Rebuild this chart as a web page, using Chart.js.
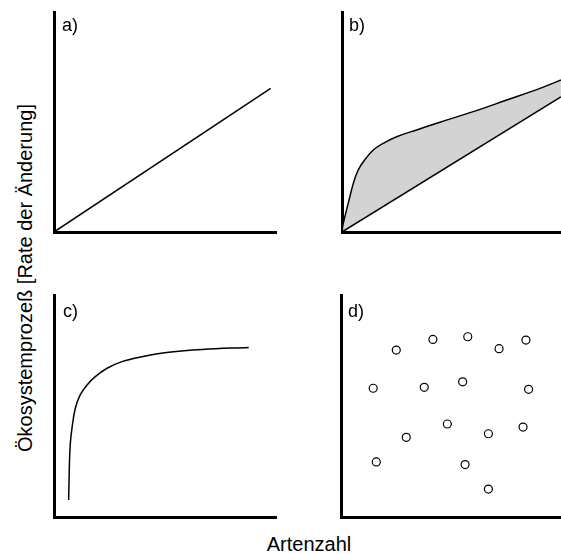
<!DOCTYPE html>
<html>
<head>
<meta charset="utf-8">
<script src="https://cdn.jsdelivr.net/npm/chart.js@4"></script>
<style>
  html, body { margin: 0; padding: 0; background: #fff; overflow: hidden; }
  body { width: 561px; height: 554px; position: relative; font-family: "Liberation Sans", Arial, Helvetica, sans-serif; color: #000; }
  canvas { position: absolute; }
  .lbl { position: absolute; font-size: 18px; line-height: 18px; white-space: nowrap; }
  .ttl { position: absolute; font-size: 20px; line-height: 20px; white-space: nowrap; text-align: center; }
</style>
</head>
<body>
<canvas id="ca" width="242" height="240" style="left:44px;top:2px"></canvas>
<canvas id="cb" width="242" height="240" style="left:332px;top:2px"></canvas>
<canvas id="cc" width="242" height="242" style="left:44px;top:285px"></canvas>
<canvas id="cd" width="242" height="242" style="left:331px;top:285px"></canvas>
<div class="lbl" style="left:62px;top:16px">a)</div>
<div class="lbl" style="left:349px;top:16px">b)</div>
<div class="lbl" style="left:63px;top:302px">c)</div>
<div class="lbl" style="left:348px;top:302px">d)</div>
<div class="ttl" style="left:109px;top:534px;width:400px">Artenzahl</div>
<div class="ttl" style="left:-175px;top:268px;width:400px;transform:rotate(-90deg);transform-origin:200px 10px">Ökosystemprozeß [Rate der Änderung]</div>
<script>
// Panel a: linear relationship
const aX = [0, 97.6];
const aY = [0, 65.3];
// Panel b: upper saturating curve and lower linear bound, area between shaded
const bUpperX = [0, 0.6, 2.8, 5.1, 7.3, 10.4, 14.1, 18.6, 24.6, 33.6, 44.1, 59.1, 74.2, 89.2, 98.6];
const bUpperY = [0, 4.0, 13.0, 22.1, 28.2, 33.0, 37.3, 40.3, 43.3, 46.4, 49.9, 54.7, 60.0, 65.3, 69.1];
const bLowerX = [0, 98.6];
const bLowerY = [0, 61.4];
// Panel c: saturating curve
const cX = [6.6, 6.9, 7.3, 8.1, 9.6, 11.8, 14.9, 18.6, 23.9, 30.6, 39.6, 51.7, 66.7, 87.7];
const cY = [7.7, 21.9, 32.4, 40.0, 49.0, 55.0, 59.5, 63.2, 67.0, 70.0, 72.2, 74.2, 75.5, 76.4];
// Panel d: scattered points (no relationship)
const dX = [24.9, 41.4, 57.1, 71.2, 83.3, 14.5, 37.5, 54.8, 84.5, 47.9, 29.4, 66.4, 82.0, 15.9, 55.9, 66.4];
const dY = [75.2, 80.0, 81.2, 75.8, 79.7, 58.0, 58.4, 60.9, 57.5, 41.9, 35.9, 37.5, 40.5, 24.8, 23.6, 12.6];

const pts = (xs, ys) => xs.map((x, i) => ({x: x, y: ys[i]}));

function baseOptions() {
  return {
    responsive: false,
    animation: false,
    devicePixelRatio: 1,
    events: [],
    layout: { padding: 10 },
    plugins: {
      legend: { display: false }, tooltip: { enabled: false }, title: { display: false },
      filler: { drawTime: 'beforeDatasetsDraw' }
    },
    scales: {
      x: {
        type: 'linear', min: 0, max: 100,
        grid: { display: false },
        ticks: { display: false },
        border: { display: true, width: 3, color: '#000' },
        afterFit: s => { s.height = 0; }
      },
      y: {
        type: 'linear', min: 0, max: 100,
        grid: { display: false },
        ticks: { display: false },
        border: { display: true, width: 3, color: '#000' },
        afterFit: s => { s.width = 0; }
      }
    }
  };
}

const lineStyle = { borderColor: '#000', borderWidth: 1.5, pointRadius: 0, fill: false };

new Chart(document.getElementById('ca'), {
  type: 'line',
  data: { datasets: [Object.assign({ data: pts(aX, aY) }, lineStyle)] },
  options: baseOptions()
});

new Chart(document.getElementById('cb'), {
  type: 'line',
  data: { datasets: [
    Object.assign({}, lineStyle, { data: pts(bUpperX, bUpperY), tension: 0.4, fill: '+1', backgroundColor: '#d3d3d3' }),
    Object.assign({}, lineStyle, { data: pts(bLowerX, bLowerY) })
  ] },
  options: baseOptions()
});

new Chart(document.getElementById('cc'), {
  type: 'line',
  data: { datasets: [Object.assign({}, lineStyle, { data: pts(cX, cY), tension: 0.4 })] },
  options: baseOptions()
});

new Chart(document.getElementById('cd'), {
  type: 'scatter',
  data: { datasets: [{
    data: pts(dX, dY),
    pointRadius: 4,
    pointBorderWidth: 1.2,
    pointBorderColor: '#000',
    pointBackgroundColor: '#fff',
    borderColor: '#000',
    backgroundColor: '#fff'
  }] },
  options: baseOptions()
});
</script>
</body>
</html>
